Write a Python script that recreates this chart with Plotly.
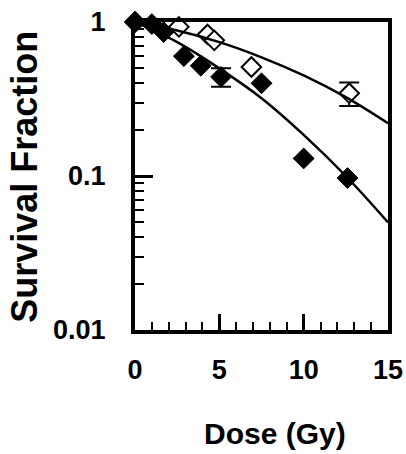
import plotly.graph_objects as go

# Filled diamonds
filled_dose = [0, 1.0, 1.7, 2.9, 3.9, 5.1, 7.5, 10.0, 12.6]
filled_sf = [1.0, 0.97, 0.86, 0.60, 0.52, 0.44, 0.40, 0.13, 0.097]
filled_err = [0, 0, 0, 0, 0, 0.06, 0, 0, 0]

# Open diamonds
open_dose = [0, 2.6, 4.3, 4.7, 6.9, 12.7]
open_sf = [1.0, 0.93, 0.83, 0.76, 0.51, 0.345]
open_err = [0, 0, 0, 0, 0, 0.06]

# Fitted curves
curve_dose = [0, 2.5, 5, 7.5, 10, 12.5, 15]
upper_sf = [1.0, 0.88, 0.74, 0.59, 0.45, 0.325, 0.22]
lower_sf = [1.0, 0.74, 0.50, 0.32, 0.185, 0.10, 0.05]

x_ticks = [0, 5, 10, 15]
x_ticktext = ["0", "5", "10", "15"]
y_ticks = [1, 0.1, 0.01]
y_ticktext = ["1", "0.1", "0.01"]
x_title = "Dose (Gy)"
y_title = "Survival Fraction"

FONT = "Arial, Liberation Sans, sans-serif"

fig = go.Figure()

fig.add_trace(go.Scatter(
    x=open_dose, y=open_sf, mode="markers",
    marker=dict(symbol="diamond", size=15, color="white",
                line=dict(color="black", width=2)),
    error_y=dict(type="data", array=open_err, color="black", thickness=2, width=10),
    cliponaxis=False, showlegend=False))

fig.add_trace(go.Scatter(
    x=curve_dose, y=upper_sf, mode="lines", line=dict(color="black", width=2.5, shape="spline"),
    showlegend=False))
fig.add_trace(go.Scatter(
    x=curve_dose, y=lower_sf, mode="lines", line=dict(color="black", width=2.5, shape="spline"),
    showlegend=False))

fig.add_trace(go.Scatter(
    x=filled_dose, y=filled_sf, mode="markers",
    marker=dict(symbol="diamond", size=16, color="black",
                line=dict(color="black", width=1)),
    error_y=dict(type="data", array=filled_err, color="black", thickness=2, width=10),
    cliponaxis=False, showlegend=False))

fig.update_layout(
    width=406, height=454,
    margin=dict(l=135, r=18, t=22, b=124, autoexpand=False),
    paper_bgcolor="white", plot_bgcolor="white",
    font=dict(family=FONT, color="black"),
    annotations=[
        dict(text=x_title, xref="paper", yref="paper", x=0.553, y=-0.397,
             xanchor="center", yanchor="bottom", showarrow=False,
             font=dict(family=FONT, size=30, weight="bold", color="black")),
        dict(text=y_title, xref="paper", yref="paper", x=-0.435, y=0.497,
             xanchor="center", yanchor="middle", showarrow=False, textangle=-90,
             font=dict(family=FONT, size=36, weight="bold", color="black")),
    ],
)

fig.update_xaxes(
    range=[0, 15], tickvals=x_ticks, ticktext=x_ticktext,
    ticks="inside", ticklen=16, tickwidth=3, tickcolor="black",
    showline=True, linewidth=4, linecolor="black", mirror=True,
    showgrid=False, zeroline=False, automargin=False,
    tickfont=dict(family=FONT, size=27, weight="bold"),
    ticklabelstandoff=13, ticklabeloverflow="allow",
    minor=dict(dtick=1, ticks="inside", ticklen=8, tickwidth=2, tickcolor="black", showgrid=False),
)

fig.update_yaxes(
    type="log", range=[-2, 0], tickvals=y_ticks, ticktext=y_ticktext,
    ticks="inside", ticklen=18, tickwidth=3, tickcolor="black",
    showline=True, linewidth=4, linecolor="black", mirror=True,
    showgrid=False, zeroline=False, automargin=False,
    tickfont=dict(family=FONT, size=27, weight="bold"),
    ticklabelstandoff=20, ticklabeloverflow="allow",
    minor=dict(dtick="D1", ticks="inside", ticklen=9, tickwidth=2, tickcolor="black", showgrid=False),
)

fig.write_html(
    "out.html",
    config={"displayModeBar": False},
    post_script="document.body.style.margin='0';document.body.style.overflow='hidden';",
)
